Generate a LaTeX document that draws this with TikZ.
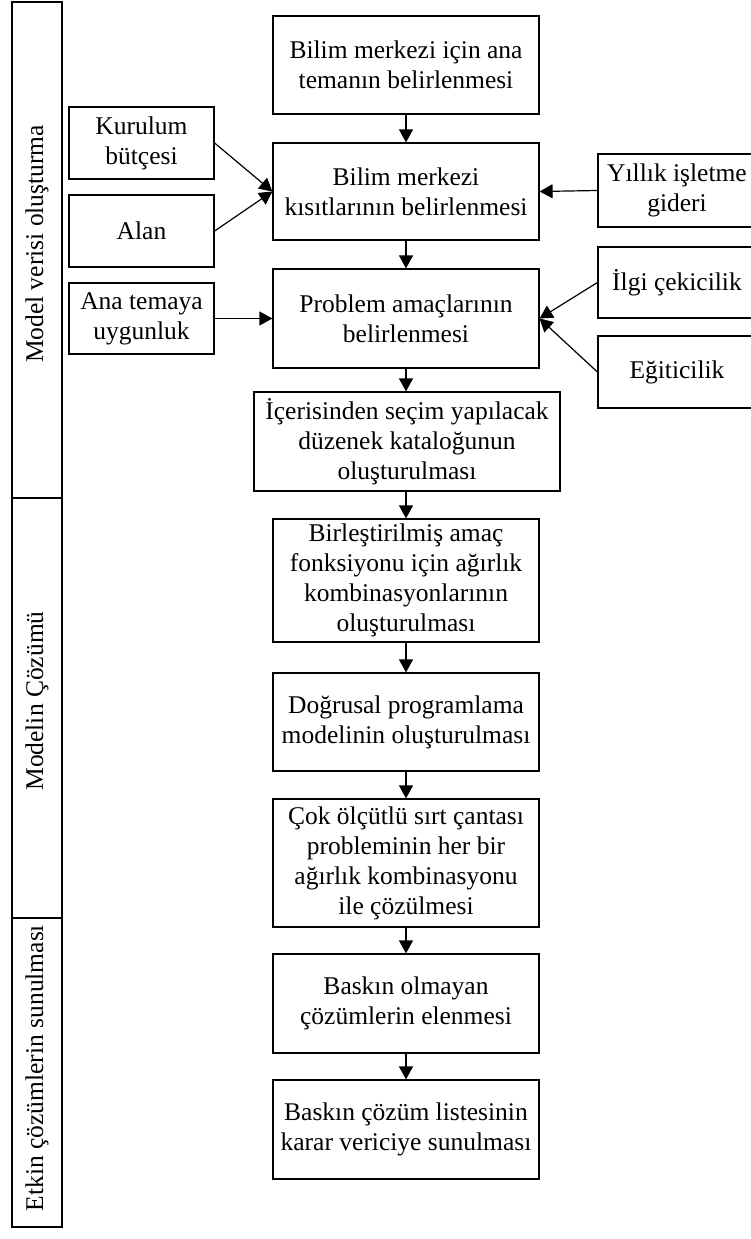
\documentclass[tikz,border=0pt]{standalone}
\usepackage{fontspec}
\setmainfont{Liberation Serif}
\usetikzlibrary{arrows.meta}
\begin{document}
\begin{tikzpicture}[x=1pt,y=-1pt,
  box/.style={draw, line width=1.2pt, inner sep=0pt, align=center, font=\fontsize{25.5}{30}\selectfont},
  arr/.style={line width=1.2pt, -{Triangle[length=13pt,width=14pt]}},
  lane/.style={draw, line width=1.2pt, inner sep=0pt},
  lanetext/.style={rotate=90, font=\fontsize{25.5}{30}\selectfont, inner sep=0pt}]
\useasboundingbox (0,0) rectangle (750,1239);

% left lanes
\node[lane, minimum width=50pt, minimum height=496pt] (l1) at (37,250) {};
\node[lane, minimum width=50pt, minimum height=420pt] (l2) at (37,708) {};
\node[lane, minimum width=50pt, minimum height=309pt] (l3) at (37,1072.5) {};
\node[lanetext] (t1) at (37,244) {Model verisi oluşturma};
\node[lanetext] (t2) at (37,701) {Modelin Çözümü};
\node[lanetext] (t3) at (37,1068) {Etkin çözümlerin sunulması};

% main column
\node[box, minimum width=266pt, minimum height=98pt] (b1) at (406,65) {Bilim merkezi için ana\\temanın belirlenmesi};
\node[box, minimum width=266pt, minimum height=97pt] (b2) at (406,191.5) {Bilim merkezi\\kısıtlarının belirlenmesi};
\node[box, minimum width=266pt, minimum height=99pt] (b3) at (406,318.5) {Problem amaçlarının\\belirlenmesi};
\node[box, minimum width=306pt, minimum height=99pt] (b4) at (407,441.5) {İçerisinden seçim yapılacak\\düzenek kataloğunun\\oluşturulması};
\node[box, minimum width=266pt, minimum height=123pt] (b5) at (406,580.5) {Birleştirilmiş amaç\\fonksiyonu için ağırlık\\kombinasyonlarının\\oluşturulması};
\node[box, minimum width=266pt, minimum height=98pt] (b6) at (406,722) {Doğrusal programlama\\modelinin oluşturulması};
\node[box, minimum width=266pt, minimum height=128pt] (b7) at (406,863) {Çok ölçütlü sırt çantası\\probleminin her bir\\ağırlık kombinasyonu\\ile çözülmesi};
\node[box, minimum width=266pt, minimum height=99pt] (b8) at (406,1003.5) {Baskın olmayan\\çözümlerin elenmesi};
\node[box, minimum width=266pt, minimum height=99pt] (b9) at (406,1129.5) {Baskın çözüm listesinin\\karar vericiye sunulması};

% left inputs
\node[box, minimum width=145pt, minimum height=72pt] (k) at (141.5,143) {Kurulum\\bütçesi};
\node[box, minimum width=145pt, minimum height=72pt] (al) at (141.5,231) {Alan};
\node[box, minimum width=145pt, minimum height=71pt] (at) at (141.5,318.5) {Ana temaya\\uygunluk};

% right inputs (cut by page edge)
\node[box, minimum width=158pt, minimum height=73pt] (yi) at (677,190.5) {Yıllık işletme\\gideri};
\node[box, minimum width=158pt, minimum height=71pt] (il) at (677,282.5) {İlgi çekicilik};
\node[box, minimum width=158pt, minimum height=72pt] (eg) at (677,372) {Eğiticilik};

% connectors
\draw[arr] (b1) -- (b2);
\draw[arr] (b2) -- (b3);
\draw[arr] (b3.south) -- (b3.south |- b4.north);
\draw[arr] (b4.south -| b5.north) -- (b5.north);
\draw[arr] (b5) -- (b6);
\draw[arr] (b6) -- (b7);
\draw[arr] (b7) -- (b8);
\draw[arr] (b8) -- (b9);
\draw[arr] (k.east) -- (b2.west);
\draw[arr] (al.east) -- (b2.west);
\draw[arr] (at.east) -- (b3.west);
\draw[arr] (yi.west) -- (b2.east);
\draw[arr] (il.west) -- (b3.east);
\draw[arr] (eg.west) -- (b3.east);
\end{tikzpicture}
\end{document}
